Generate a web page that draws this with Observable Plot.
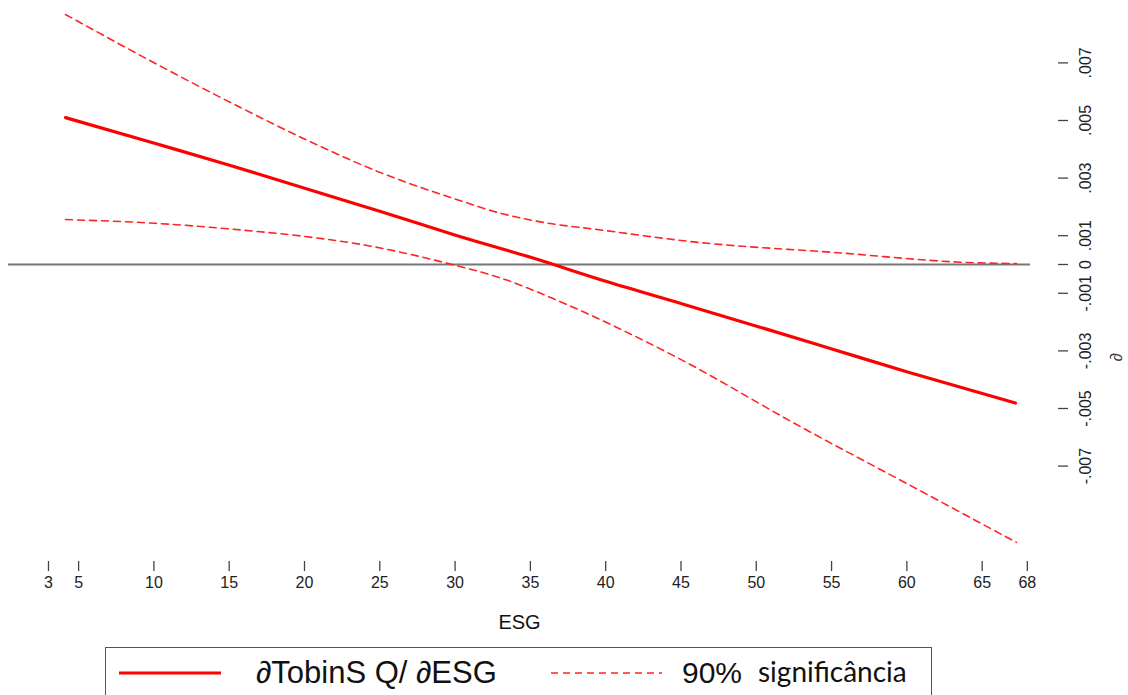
<!DOCTYPE html>
<html>
<head>
<meta charset="utf-8">
<script src="https://cdn.jsdelivr.net/npm/d3@7"></script>
<script src="https://cdn.jsdelivr.net/npm/@observablehq/plot@0.6"></script>
<style>
  body { margin: 0; background: #fff; }
  #chart { position: relative; width: 1128px; height: 695px; overflow: hidden; background: #fff; }
  #legend { position: absolute; left: 105px; top: 647px; width: 827px; height: 70px;
            border: 1.5px solid #555; box-sizing: border-box; background: #fff; }
  #legend span { position: absolute; white-space: nowrap; line-height: 1; color: #111; }
  .lg1 { font-family: 'Liberation Sans', Arial, sans-serif; font-size: 30px; }
  .lg2 { font-family: Lato, 'Open Sans', sans-serif; font-size: 28px; }
</style>
</head>
<body>
<div id="chart"></div>
<script>
// ---- data ----
const mainESG = [4.13, 10.1, 15.08, 20.07, 25.05, 30.09, 35.07, 40.12, 45.1, 50.08, 55.13, 60.1, 67.21];
const mainEffect = [0.00510, 0.00420, 0.00344, 0.00264, 0.00184, 0.00101, 0.00024, -0.00060, -0.00137, -0.00215, -0.00295, -0.00374, -0.00481];

const upperESG = [4.13, 10.1, 15.75, 20.07, 25.05, 30.09, 33.01, 35.67, 39.65, 46.29, 55.13, 64.02, 67.28];
const upperEffect = [0.00868, 0.00698, 0.00545, 0.00434, 0.00319, 0.00226, 0.00178, 0.00148, 0.00120, 0.00076, 0.00042, 0.00007, 0.00003];

const lowerESG = [4.13, 10.1, 15.75, 20.07, 24.58, 29.03, 33.48, 36.8, 44.63, 53.0, 59.97, 67.28];
const lowerEffect = [0.00156, 0.00143, 0.00120, 0.00097, 0.00062, 0.00010, -0.00055, -0.00125, -0.00320, -0.00565, -0.00760, -0.00965];

const xTicks = [3, 5, 10, 15, 20, 25, 30, 35, 40, 45, 50, 55, 60, 65, 68];
const yTicks = [0.007, 0.005, 0.003, 0.001, 0, -0.001, -0.003, -0.005, -0.007];
const yTickLabels = [".007", ".005", ".003", ".001", "0", "-.001", "-.003", "-.005", "-.007"];

const xLabel = "ESG";
const yLabel = "∂";
const legendMain = "∂TobinS Q/ ∂ESG";
const legendCI1 = "90%";
const legendCI2 = "significância";

// ---- tables ----
const mainData = mainESG.map((x, i) => ({x, y: mainEffect[i]}));
const upperData = upperESG.map((x, i) => ({x, y: upperEffect[i]}));
const lowerData = lowerESG.map((x, i) => ({x, y: lowerEffect[i]}));

const red = "#ff0000";
const dashRed = "#ff2424";

const plot = Plot.plot({
  width: 1128,
  height: 640,
  marginLeft: 8,
  marginRight: 98,
  marginTop: 10,
  marginBottom: 95,
  style: {fontFamily: "'Liberation Sans', Arial, sans-serif", fontSize: "16px", color: "#222", background: "#fff"},
  x: {domain: [0.344, 68.21], label: null},
  y: {domain: [-0.009757, 0.008819], label: null},
  marks: [
    Plot.ruleY([0], {stroke: "#777", strokeWidth: 2}),
    Plot.line(upperData, {x: "x", y: "y", stroke: dashRed, strokeWidth: 1.6, strokeDasharray: "7,5", curve: "monotone-x"}),
    Plot.line(lowerData, {x: "x", y: "y", stroke: dashRed, strokeWidth: 1.6, strokeDasharray: "7,5", curve: "monotone-x"}),
    Plot.line(mainData, {x: "x", y: "y", stroke: red, strokeWidth: 3.2, curve: "monotone-x"}),
    Plot.axisX(xTicks, {anchor: "bottom", tickSize: 10, dy: 16, tickPadding: 5, stroke: "#444", strokeWidth: 1.3, label: null, fontSize: 16, fill: "#222"}),
    Plot.axisY(yTicks, {anchor: "right", tickSize: 10, dx: 27, tickFormat: () => "", stroke: "#444", strokeWidth: 1.3, label: null}),
    Plot.text(yTicks, {y: d => d, text: (d, i) => yTickLabels[i], frameAnchor: "right", dx: 55, rotate: -90,
                       textAnchor: "middle", lineAnchor: "middle", fontSize: 16, fill: "#222"}),
    Plot.text([xLabel], {frameAnchor: "bottom", dy: 77, lineAnchor: "middle", fontSize: 20, fill: "#111"}),
    Plot.text([yLabel], {frameAnchor: "right", dx: 86, dy: 75, rotate: -90, lineAnchor: "middle", fontSize: 17, fontStyle: "italic", fill: "#444"})
  ]
});

const chart = document.getElementById("chart");
chart.appendChild(plot);

// ---- legend ----
const legend = document.createElement("div");
legend.id = "legend";
legend.innerHTML = `
  <svg style="position:absolute;left:0;top:0" width="827" height="60">
    <line x1="13" x2="115" y1="25" y2="25" stroke="${red}" stroke-width="3.2"/>
    <line x1="445" x2="556" y1="25" y2="25" stroke="${dashRed}" stroke-width="1.6" stroke-dasharray="7,5"/>
  </svg>
  <span class="lg1" style="left:150px;top:9px;font-size:31px">${legendMain}</span>
  <span class="lg1" style="left:576px;top:10px">${legendCI1}</span>
  <span class="lg2" style="left:652px;top:9px">${legendCI2}</span>
`;
chart.appendChild(legend);
</script>
</body>
</html>
